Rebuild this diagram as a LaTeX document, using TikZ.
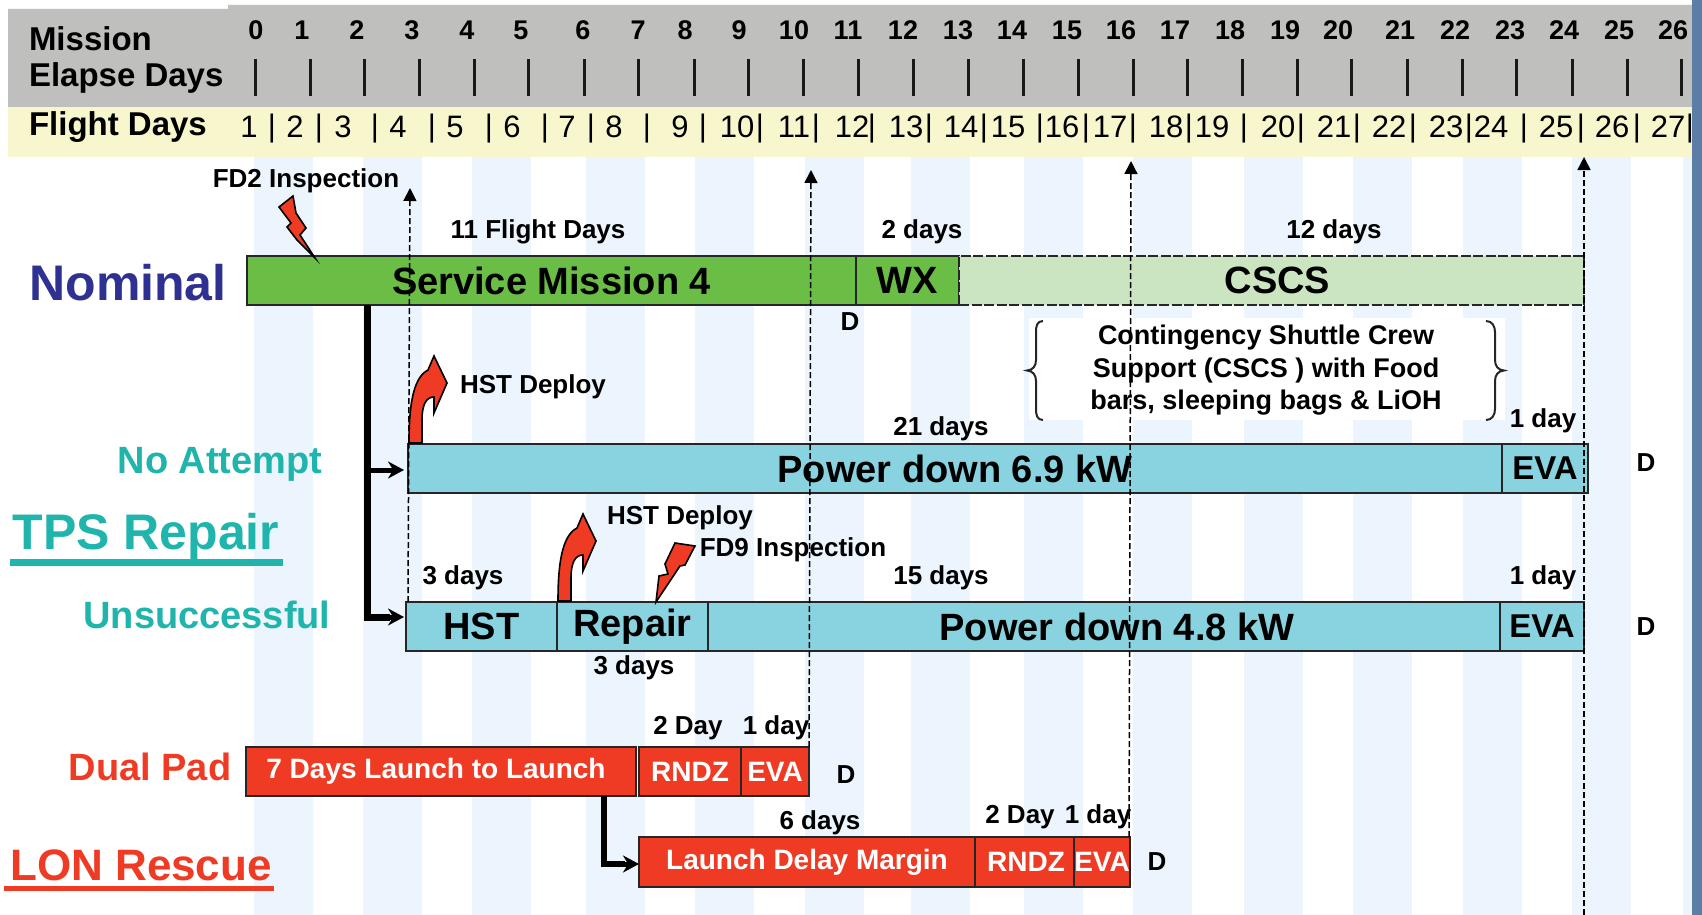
\documentclass[tikz,border=0pt]{standalone}
\usepackage{fontspec}
\setmainfont{Liberation Sans}
\usetikzlibrary{arrows.meta}
\definecolor{greyband}{HTML}{BFBFBE}
\definecolor{yellowband}{HTML}{F8F6CC}
\definecolor{stripe}{HTML}{ECF5FD}
\definecolor{edgeblue}{HTML}{5B7DA6}
\definecolor{midgreen}{HTML}{6ABD45}
\definecolor{palegreen}{HTML}{CBE5C0}
\definecolor{tealbar}{HTML}{88D3DF}
\definecolor{redbar}{HTML}{EF3B23}
\definecolor{tealtext}{HTML}{1FB5AD}
\definecolor{navytext}{HTML}{2E3192}
\newcommand{\fs}[1]{\fontsize{#1}{#1}\selectfont}
\newcommand{\barbox}[7]{% name,x1,x2,y1,y2,style,text
  \pgfmathsetmacro{\bcx}{(#2+#3)/2}\pgfmathsetmacro{\bcy}{(#4+#5)/2}
  \pgfmathsetmacro{\bw}{#3-#2}\pgfmathsetmacro{\bh}{#5-#4}
  \node[#6,minimum width=\bw pt,minimum height=\bh pt] (#1) at (\bcx,\bcy) {#7};}
\tikzset{
  every node/.style={inner sep=0pt,outer sep=0pt},
  hd/.style={font=\fs{33}\bfseries,anchor=west},
  numtop/.style={font=\fs{27}\bfseries},
  numfd/.style={font=\fs{31}},
  small/.style={font=\fs{26}\bfseries},
  barbase/.style={draw=black!85,line width=1.8pt,font=\fs{38}\bfseries},
  greenbar/.style={barbase,fill=midgreen},
  palebar/.style={draw=black!85,line width=1.8pt,dash pattern=on 10pt off 2.5pt,fill=palegreen,font=\fs{38}\bfseries},
  tealbox/.style={barbase,fill=tealbar},
  evabox/.style={barbase,fill=tealbar,font=\fs{33}\bfseries},
  redbox/.style={barbase,fill=redbar,text=white,font=\fs{28}\bfseries},
  side/.style={font=\fs{38}\bfseries},
  dashline/.style={draw=black,line width=1.5pt,dash pattern=on 6pt off 3pt,-{Triangle[length=13pt,width=13pt]}},
  trunk/.style={draw=black,line width=7pt},
  arm/.style={draw=black,line width=5pt,-{Stealth[length=16pt,width=17pt]}},
  flash/.style={fill=redbar,draw=black,line width=1.6pt,line join=miter},
  tickmark/.style={draw=black!90,line width=3pt},
  bracket/.style={draw=black!85,line width=2pt},
}
\begin{document}
\begin{tikzpicture}[x=1pt,y=-1pt]
\useasboundingbox (0,0) rectangle (1702,915);
\fill[white] (0,0) rectangle (1702,915);
% stripes
\foreach \sx in {254,363,472,586,695,805,911,1024,1133,1244,1353,1463,1572,1683}
  \fill[stripe] (\sx,157) rectangle ({\sx+59},915);
% header bands
\fill[greyband] (8,9) -- (228,9) -- (228,5) -- (1692,5) -- (1692,107) -- (8,107) -- cycle;
\fill[yellowband] (8,107) rectangle (1692,157);
\fill[edgeblue] (1692,0) rectangle (1702,915);
\node[hd] (hMission) at (29,39) {Mission};
\node[hd] (hElapse) at (29,78) {Elapse Days};
\node[hd] (hFlight) at (29,127) {Flight Days};
\foreach \x/\t in {256/0,302/1,357/2,412/3,467/4,521/5,583/6,638/7,685/8,739/9,794/10,848/11,903/12,958/13,1012/14,1067/15,1121/16,1175/17,1230/18,1285/19,1338/20,1400/21,1455/22,1510/23,1564/24,1619/25,1673/26}
  \node[numtop,name=med\t] at (\x,30) {\t};
\foreach \x in {255,310,364,419,474,528,584,638,694,748,803,858,913,968,1023,1078,1133,1187,1242,1297,1351,1407,1462,1516,1572,1627,1681}
  \draw[tickmark] (\x,59) -- (\x,96);
\foreach \x/\t in {249/1,295/2,343/3,398/4,455/5,512/6,567/7,614/8,680/9,737/10,794/11,852/12,906/13,961/14,1008/15,1062/16,1110/17,1166/18,1212/19,1278/20,1334/21,1389/22,1446/23,1491/24,1556/25,1612/26,1668/27}
  \node[numfd,name=fd\t] at (\x,127) {\t};
\foreach \x [count=\i] in {272,319,375,432,489,545,591,647,703,760,816,872,929,984,1040,1086,1133,1189,1244,1301,1357,1413,1469,1524,1581,1637,1690}
  \node[numfd,name=sep\i] at (\x,129) {|};
% note background
\fill[white] (1029,318) rectangle (1505,420);
% bars
\barbox{sm}{247}{856}{256}{305}{greenbar}{Service Mission 4}
\barbox{wx}{856}{959}{256}{305}{greenbar}{WX}
\barbox{cscs}{959}{1584}{256}{305}{palebar}{\tikzset{solid}\hspace{12pt}CSCS}
\barbox{pa}{408}{1502}{444}{493}{tealbox}{Power down 6.9 kW}
\barbox{evaA}{1502}{1588}{444}{493}{evabox}{EVA}
\barbox{hst}{406}{557}{602}{651}{tealbox}{HST}
\barbox{rep}{557}{708}{602}{651}{tealbox}{Repair}
\barbox{pb}{708}{1500}{602}{651}{tealbox}{\hspace{26pt}Power down 4.8 kW}
\barbox{evaB}{1500}{1584}{602}{651}{evabox}{EVA}
\barbox{dp}{246}{636}{747}{796}{redbox}{\hspace{-10pt}7 Days Launch to Launch}
\barbox{rA}{639}{741}{747}{796}{redbox}{RNDZ}
\barbox{eA}{741}{809}{747}{796}{redbox}{EVA}
\barbox{ld}{639}{975}{837}{887}{redbox}{Launch Delay Margin}
\barbox{rB}{975}{1077}{837}{887}{redbox}{RNDZ}
\barbox{eB}{1077}{1127}{837}{887}{redbox}{EVA}
% side labels
\node[font=\fs{50}\bfseries,text=navytext] (nom) at (128,283) {Nominal};
\node[side,text=tealtext] (noatt) at (220,464) {No Attempt};
\node[font=\fs{50}\bfseries,text=tealtext] (tps) at (146,537) {TPS Repair};
\draw[tealtext,line width=7pt] (10,562) -- (283,562);
\node[side,text=tealtext] (uns) at (207,615) {Unsuccessful};
\node[side,text=redbar] (dual) at (150,767) {Dual Pad};
\node[font=\fs{44}\bfseries,text=redbar] (lon) at (141,865) {LON Rescue};
\draw[redbar,line width=5pt] (4,888) -- (274,888);
% small labels
\foreach \nm/\x/\y/\t in {a1/306/181/FD2 Inspection,a2/538/232/11 Flight Days,a3/922/232/2 days,a4/1334/232/12 days,a5/850/322/D/O,a6/533/387/HST Deploy,a7/941/429/21 days,a8/1543/421/1 day,a9/1646/463/D/O,a10/680/518/HST Deploy,a11/793/550/FD9 Inspection,a12/463/578/3 days,a13/941/578/15 days,a14/1543/578/1 day,a15/1646/627/D/O,a16/634/668/3 days,a17/688/728/2 Day,a18/776/728/1 day,a19/846/775/D/O,a20/820/823/6 days,a21/1020/817/2 Day,a22/1098/817/1 day,a23/1157/862/D/O}
  \node[small,name=\nm] at (\x,\y) {\t};
% note
\node[small,font=\fs{27}\bfseries] (n1) at (1266,338) {Contingency Shuttle Crew};
\node[small,font=\fs{27}\bfseries] (n2) at (1266,371) {Support (CSCS ) with Food};
\node[small,font=\fs{27}\bfseries] (n3) at (1266,403) {bars, sleeping bags \& LiOH};
\draw[bracket] (1043,321) .. controls (1037,321) and (1036,326) .. (1036,332) -- (1036,360) .. controls (1036,366) and (1033,370) .. (1027,370.5) .. controls (1033,371) and (1036,375) .. (1036,381) -- (1036,409) .. controls (1036,415) and (1037,420) .. (1043,420);
\draw[bracket] (1486,321) .. controls (1492,321) and (1495,326) .. (1495,332) -- (1495,360) .. controls (1495,366) and (1498,370) .. (1504,370.5) .. controls (1498,371) and (1495,375) .. (1495,381) -- (1495,409) .. controls (1495,415) and (1492,420) .. (1486,420);
% black connectors
\coordinate (tA) at (367,305);
\coordinate (armA) at (404,470);
\coordinate (armB) at (404,617);
\coordinate (tB) at (604,796);
\coordinate (armC) at (639,864);
\draw[arm] (tA |- armA) -- (armA);
\draw[trunk] (tA) -- (tA |- armB) -- ([xshift=-14pt]armB);
\draw[arm] ([xshift=-16pt]armB) -- (armB);
\draw[draw=black,line width=6pt] (tB) -- (tB |- armC) -- ([xshift=-14pt]armC);
\draw[arm] ([xshift=-16pt]armC) -- (armC);
% flashes and deploy arrows
\draw[flash] (293,196) -- (279,207) -- (291,223) -- (287,227) -- (297,240) -- (315,258) -- (300,235) -- (306,228) -- (296,213) -- cycle;
\draw[flash] (675,543) -- (695,546) -- (685,565) -- (680,566) -- (656,602) -- (659,576) -- (668,574) -- (665,564) -- cycle;
\foreach \sx/\sy in {0/0,149/158}
  \draw[flash,shift={(\sx,\sy)}] (409,443) .. controls (409,410) and (412,378) .. (428,370) -- (434,356) -- (447,383) -- (434,413) -- (434,397) .. controls (426,397) and (422,405) .. (422,420) -- (422,443) -- cycle;
% dashed day markers
\coordinate (dAb) at (408,602);
\coordinate (dAt) at (410,188);
\coordinate (dBb) at (809,747);
\coordinate (dBt) at (811,170);
\coordinate (dCb) at (1129,837);
\coordinate (dCt) at (1131,161);
\coordinate (dDb) at (1584,915);
\coordinate (dDt) at (1584,157);
\draw[dashline] (dAb) -- (dAt);
\draw[dashline] (dBb) -- (dBt);
\draw[dashline] (dCb) -- (dCt);
\draw[dashline] (dDb) -- (dDt);
\end{tikzpicture}
\end{document}
